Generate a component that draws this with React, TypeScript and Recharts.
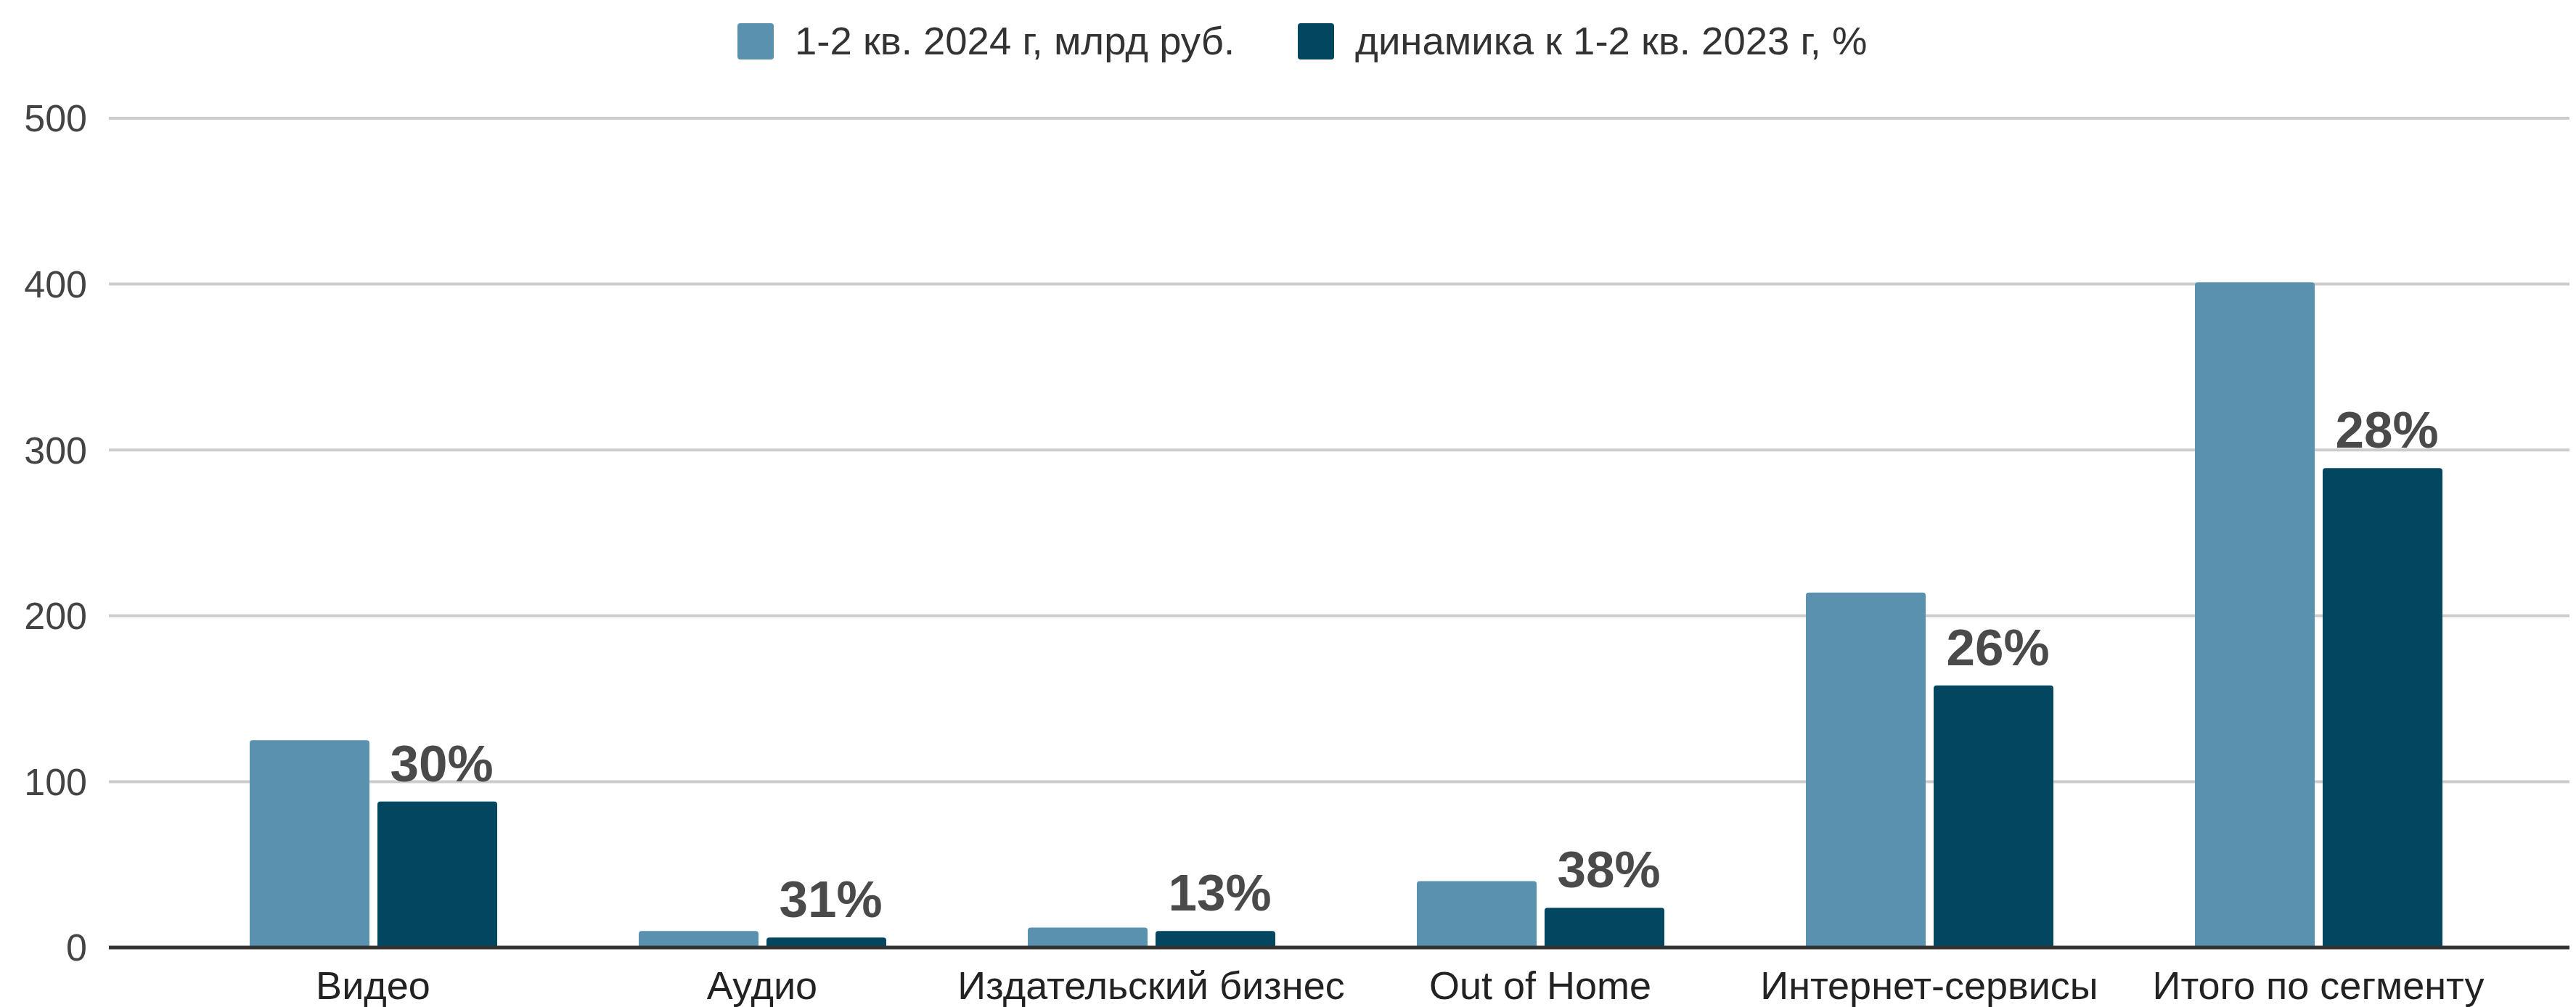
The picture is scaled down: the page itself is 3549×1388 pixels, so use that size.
import React from 'react';
import { BarChart, Bar, XAxis, YAxis, CartesianGrid, Legend, LabelList } from 'recharts';

const categories = ['Видео', 'Аудио', 'Издательский бизнес', 'Out of Home', 'Интернет-сервисы', 'Итого по сегменту'];
const values2024 = [125, 10, 12, 40, 214, 401];
const valuesDyn = [88, 6, 10, 24, 158, 289];
const dynLabels = ['30%', '31%', '13%', '38%', '26%', '28%'];
const yTicks = [0, 100, 200, 300, 400, 500];
const seriesNames = ['1-2 кв. 2024 г, млрд руб.', 'динамика к 1-2 кв. 2023 г, %'];

const LIGHT = '#5a91ae';
const DARK = '#03465f';
const FONT = '"Liberation Sans", Arial, sans-serif';

const data = categories.map((c, i) => ({
  name: c,
  v2024: values2024[i],
  dyn: valuesDyn[i],
  lbl: dynLabels[i],
}));

const LegendContent = (props: any) => {
  const payload = props.payload || [];
  return (
    <div style={{ display: 'flex', alignItems: 'center', fontFamily: FONT, fontSize: 54.5, color: '#333' }}>
      {payload.map((p: any, i: number) => (
        <div key={i} style={{ display: 'flex', alignItems: 'center', marginRight: i === 0 ? 87 : 0 }}>
          <div style={{ width: 50, height: 50, background: p.color, borderRadius: 4, marginRight: 29 }} />
          <span style={{ whiteSpace: 'nowrap' }}>{p.value}</span>
        </div>
      ))}
    </div>
  );
};

export default function App() {
  return (
    <div style={{ position: 'absolute', left: 0, top: 0, width: 3549, height: 1388, background: '#fff' }}>
      <BarChart
        width={3549}
        height={1388}
        data={data}
        margin={{ top: 163, right: 9, bottom: 0, left: 0 }}
        barSize={165}
        barGap={11}
      >
        <CartesianGrid vertical={false} stroke="#cccccc" strokeWidth={4} />
        <XAxis
          dataKey="name"
          height={82}
          padding={{ left: 96, right: 78 }}
          tickLine={false}
          tickSize={0}
          tickMargin={33}
          axisLine={{ stroke: '#333333', strokeWidth: 5 }}
          tick={{ fill: '#222222', fontSize: 54, fontFamily: FONT }}
          interval={0}
        />
        <YAxis
          width={150}
          domain={[0, 500]}
          ticks={yTicks}
          axisLine={false}
          tickLine={false}
          tickSize={0}
          tickMargin={30}
          tick={{ fill: '#444444', fontSize: 52, fontFamily: FONT }}
        />
        <Legend
          layout="horizontal"
          verticalAlign="middle"
          align="center"
          wrapperStyle={{ left: 1016, top: 25 }}
          content={<LegendContent />}
        />
        <Bar dataKey="v2024" name={seriesNames[0]} fill={LIGHT} radius={[4, 4, 0, 0]} isAnimationActive={false} />
        <Bar dataKey="dyn" name={seriesNames[1]} fill={DARK} radius={[4, 4, 0, 0]} isAnimationActive={false}>
          <LabelList
            dataKey="lbl"
            position="top"
            offset={28}
            dx={6}
            fill="#4a4a4a"
            fontSize={71}
            fontWeight="bold"
            fontFamily={FONT}
          />
        </Bar>
      </BarChart>
    </div>
  );
}
